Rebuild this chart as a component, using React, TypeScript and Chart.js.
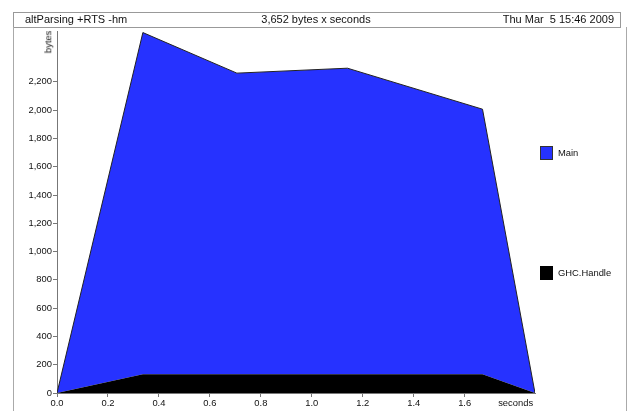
import React, { useEffect, useRef } from "react";
import { Chart, registerables } from "chart.js";

Chart.register(...registerables);

// ---- data ----
const TIMES = [0, 0.337, 0.706, 1.14, 1.67, 1.876];
const MAIN_BYTES = [0, 2417, 2130, 2165, 1875, 0];
const GHC_HANDLE_BYTES = [0, 132, 132, 132, 132, 0];
const Y_TICKS = [0, 200, 400, 600, 800, 1000, 1200, 1400, 1600, 1800, 2000, 2200];
const X_TICKS = [0, 0.2, 0.4, 0.6, 0.8, 1.0, 1.2, 1.4, 1.6, 1.8];
const X_UNIT = "seconds";
const Y_UNIT = "bytes";
const TITLE_LEFT = "altParsing +RTS -hm";
const TITLE_CENTER = "3,652 bytes x seconds";
const TITLE_RIGHT = "Thu Mar  5 15:46 2009";
const SERIES_NAMES = ["GHC.Handle", "Main"];

const FONT = '"Liberation Sans", Arial, Helvetica, sans-serif';
const BLUE = "rgb(38,50,255)";

export default function App() {
  const ref = useRef<HTMLCanvasElement | null>(null);

  useEffect(() => {
    if (!ref.current) return;
    const chart = new Chart(ref.current, {
      type: "line",
      data: {
        datasets: [
          {
            label: SERIES_NAMES[0],
            data: TIMES.map((t, i) => ({ x: t, y: GHC_HANDLE_BYTES[i] })),
            backgroundColor: "#000",
            borderColor: "#000",
            borderWidth: 0,
            fill: "origin",
            pointRadius: 0,
            tension: 0,
          },
          {
            label: SERIES_NAMES[1],
            data: TIMES.map((t, i) => ({ x: t, y: MAIN_BYTES[i] })),
            backgroundColor: BLUE,
            borderColor: "#222",
            borderWidth: 1,
            fill: "-1",
            pointRadius: 0,
            tension: 0,
          },
        ],
      },
      options: {
        responsive: false,
        animation: false,
        devicePixelRatio: 1,
        layout: { padding: { left: 0, top: 31, right: 96, bottom: 0 } },
        plugins: { legend: { display: false }, tooltip: { enabled: false } },
        scales: {
          x: {
            type: "linear",
            min: 0,
            max: TIMES[TIMES.length - 1],
            afterBuildTicks: (s: any) => {
              s.ticks = X_TICKS.map((v) => ({ value: v }));
            },
            afterFit: (s: any) => {
              s.height = 18;
            },
            ticks: {
              autoSkip: false,
              maxRotation: 0,
              padding: 1,
              color: "#111",
              font: { family: FONT, size: 9.4 },
              callback: (v: any) => (Math.abs(Number(v) - 1.8) < 1e-6 ? X_UNIT : Number(v).toFixed(1)),
            },
            grid: {
              drawOnChartArea: false,
              drawTicks: true,
              tickLength: 4,
              tickColor: (ctx: any) =>
                ctx.tick && ctx.tick.value > 1.7 ? "rgba(0,0,0,0)" : "#777",
            },
            border: { color: "#777", width: 1 },
          },
          y: {
            type: "linear",
            stacked: true,
            min: 0,
            max: 2560,
            afterBuildTicks: (s: any) => {
              s.ticks = Y_TICKS.map((v) => ({ value: v }));
            },
            afterFit: (s: any) => {
              s.width = 57;
            },
            ticks: {
              autoSkip: false,
              padding: 1,
              color: "#111",
              font: { family: FONT, size: 9.4 },
              callback: (v: any) => Number(v).toLocaleString("en-US"),
            },
            grid: {
              drawOnChartArea: false,
              drawTicks: true,
              tickLength: 4,
              tickColor: "#777",
            },
            border: { color: "#777", width: 1 },
          },
        },
      },
    });
    return () => chart.destroy();
  }, []);

  const textBase: React.CSSProperties = {
    position: "absolute",
    fontFamily: FONT,
    color: "#111",
    whiteSpace: "pre",
    lineHeight: 1,
  };

  return (
    <div
      style={{
        position: "fixed",
        left: 0,
        top: 0,
        width: 631,
        height: 411,
        background: "#fff",
        overflow: "hidden",
      }}
    >
      <canvas ref={ref} width={631} height={411} style={{ position: "absolute", left: 0, top: 0, width: 631, height: 411 }} />
      {/* header box */}
      <div
        style={{
          position: "absolute",
          left: 13,
          top: 12,
          width: 606,
          height: 14,
          border: "1px solid #999",
        }}
      />
      <div style={{ ...textBase, left: 25, top: 14, fontSize: 11 }}>{TITLE_LEFT}</div>
      <div style={{ ...textBase, left: 316, top: 14, fontSize: 11, transform: "translateX(-50%)" }}>{TITLE_CENTER}</div>
      <div style={{ ...textBase, right: 631 - 614, top: 14, fontSize: 11 }}>{TITLE_RIGHT}</div>
      {/* frame lines */}
      <div style={{ position: "absolute", left: 13, top: 27, width: 1, height: 400, background: "#aaa" }} />
      <div style={{ position: "absolute", left: 626, top: 27, width: 1, height: 400, background: "#aaa" }} />
      {/* y unit label */}
      <div
        style={{
          ...textBase,
          left: 48,
          top: 42,
          fontSize: 9.4,
          transform: "translate(-50%, -50%) rotate(-90deg)",
        }}
      >
        {Y_UNIT}
      </div>
      {/* legend */}
      <div style={{ position: "absolute", left: 540, top: 146, width: 13, height: 14, background: BLUE, boxSizing: "border-box", border: "1px solid #333" }} />
      <div style={{ ...textBase, left: 558, top: 148, fontSize: 9.4 }}>{SERIES_NAMES[1]}</div>
      <div style={{ position: "absolute", left: 540, top: 266, width: 13, height: 14, background: "#000" }} />
      <div style={{ ...textBase, left: 558, top: 268, fontSize: 9.4 }}>{SERIES_NAMES[0]}</div>
    </div>
  );
}
